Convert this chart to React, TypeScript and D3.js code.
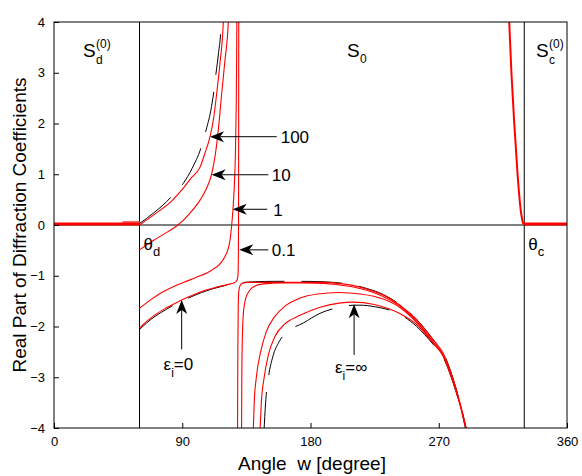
import React, { useEffect, useRef } from 'react';
import * as d3 from 'd3';

// axis values
const xTicks = [0, 90, 180, 270, 360];
const yTicks = [-4, -3, -2, -1, 0, 1, 2, 3, 4];
const thetaD = 60;
const thetaC = 330;

// [angle, value]
const sdRegion = [[0, 0.02], [60, 0.02]];
const sdWedge = [[48, 0.06], [60, 0.06]];
const scRegion = [[329.3, 0.02], [360, 0.02]];
const scDrop = [[319.3, 4.1], [321, 3], [323, 2], [325.3, 1], [327.5, 0.3], [328.6, 0.1], [329.3, 0.02]];

const eps0Upper = [[60, 0.03], [65, 0.13], [70, 0.24], [76, 0.38], [82.5, 0.56], [90.7, 0.82], [97, 1.12], [102.9, 1.5], [106.7, 1.87], [110, 2.25], [112.3, 2.66], [113.7, 2.99], [115.5, 3.4], [117, 3.83], [117.4, 4.3]];
const eps0Lower = [[60, -2.06], [65, -1.93], [70.9, -1.8], [79, -1.66], [87.2, -1.53], [95, -1.43], [103.7, -1.33], [111, -1.26], [117.7, -1.21], [124, -1.17], [130, -1.14], [140, -1.12], [155, -1.11], [172.6, -1.11], [190, -1.12], [196, -1.13], [207.7, -1.17], [219.4, -1.25], [231.1, -1.37], [242.8, -1.57], [254.5, -1.86], [266.2, -2.26], [273.2, -2.52], [280.2, -3.04], [284.9, -3.5], [290, -4.1]];
const epsInf = [[147.3, -4.1], [148.5, -3.5], [150.5, -3.0], [153.5, -2.6], [158, -2.3], [165, -2.08], [175, -1.93], [186.7, -1.74], [200.7, -1.62], [210.6, -1.58], [214.7, -1.58], [225, -1.61], [242.8, -1.76], [254.5, -2.0], [266, -2.35], [273, -2.6], [280, -3.1], [285, -3.56], [289.5, -4.1]];

const c100 = [[60, 0.0], [70, 0.2], [82.5, 0.47], [90, 0.7], [96, 0.92], [102.5, 1.14], [106, 1.42], [109.5, 1.74], [112, 2.1], [114.2, 2.6], [116.5, 3.2], [118.8, 4.0], [119.2, 4.3]];
const c10 = [[60, -0.49], [70, -0.3], [80, -0.13], [87, 0], [95, 0.22], [102.5, 0.49], [107, 0.72], [110.6, 1.0], [113, 1.35], [115.3, 1.87], [117.7, 2.6], [120, 3.25], [122.3, 4.0], [122.6, 4.3]];
const c1 = [[60, -1.64], [68, -1.47], [75.6, -1.33], [84, -1.21], [91.9, -1.12], [100, -1.03], [110.7, -0.89], [116, -0.78], [120, -0.62], [122.3, -0.46], [123.5, -0.3], [124.7, 0], [125.6, 0.31], [126.5, 0.75], [127.3, 1.4], [127.8, 2.2], [128.1, 3], [128.3, 4], [128.35, 4.3]];
const c01 = [[60, -2.03], [65, -1.9], [70.9, -1.77], [79, -1.63], [87.2, -1.51], [95, -1.41], [103.7, -1.31], [111, -1.25], [117.7, -1.2], [124, -1.16], [127, -1.13], [128.4, -1.09], [129.1, -1.0], [129.35, -0.7], [129.5, 0], [129.6, 2], [129.65, 4.3]];

const lowA = [[128.8, -4.1], [129, -2.5], [129.3, -1.6], [129.7, -1.3], [130.5, -1.2], [132, -1.15], [136, -1.13], [150, -1.13], [172.6, -1.13], [190, -1.13], [196, -1.14], [207.7, -1.18], [219.4, -1.26], [231.1, -1.38], [242.8, -1.58], [254.5, -1.87], [266.2, -2.27], [273.2, -2.53], [280.2, -3.05], [284.9, -3.51], [290, -4.1]];
const lowB = [[131.6, -4.1], [131.8, -3], [132.2, -2.2], [133, -1.7], [134.5, -1.45], [137, -1.3], [141, -1.2], [147, -1.16], [160, -1.14], [175, -1.14], [190, -1.15], [200, -1.18], [210, -1.22], [220, -1.29], [231, -1.41], [243, -1.6], [254.5, -1.9], [266, -2.3], [273, -2.56], [280, -3.07], [285, -3.53], [290, -4.1]];
const lowC = [[139.8, -4.1], [140.5, -3.5], [142, -3.0], [145, -2.5], [149, -2.1], [155, -1.8], [162, -1.6], [172.6, -1.44], [185, -1.36], [200, -1.33], [215, -1.36], [231, -1.46], [243, -1.63], [254.5, -1.92], [266, -2.31], [273, -2.57], [280, -3.08], [285, -3.55], [289.8, -4.1]];
const lowD = [[144.5, -4.1], [145.5, -3.5], [147.5, -3.0], [150.5, -2.55], [155, -2.2], [162, -1.95], [172.6, -1.78], [186.7, -1.62], [200, -1.54], [210, -1.52], [224, -1.56], [235, -1.65], [243, -1.75], [254.5, -1.96], [266, -2.33], [273, -2.58], [280, -3.09], [285, -3.55], [289.8, -4.1]];

// arrows: tip, tail, label
const arrows = [
  { tip: [109.5, 1.74], tail: [156.3, 1.74] },
  { tip: [110.6, 0.99], tail: [150.4, 0.99] },
  { tip: [125.4, 0.31], tail: [149.6, 0.31] },
  { tip: [130.0, -0.49], tail: [150.4, -0.49] },
  { tip: [89.6, -1.48], tail: [89.6, -2.45] },
  { tip: [210.6, -1.56], tail: [210.6, -2.56] },
];
const arrowLabels = [
  { text: '100', at: [159.1, 1.62] },
  { text: '10', at: [152.8, 0.87] },
  { text: '1', at: [153.9, 0.18] },
  { text: '0.1', at: [152.8, -0.61] },
];

const App = () => {
  const svgRef = useRef(null);

  useEffect(() => {
    const svg = d3.select(svgRef.current);
    svg.selectAll('*').remove();

    const margin = { top: 22, right: 15, bottom: 48, left: 54 };
    const W = 582, H = 476;
    const width = W - margin.left - margin.right;
    const height = H - margin.top - margin.bottom;
    const font = 'Liberation Sans, Arial, Helvetica, sans-serif';

    svg.attr('width', W).attr('height', H);

    const xScale = d3.scaleLinear().domain([0, 360]).range([0, width]);
    const yScale = d3.scaleLinear().domain([-4, 4]).range([height, 0]);

    svg.append('defs').append('clipPath').attr('id', 'plotclip')
      .append('rect').attr('width', width).attr('height', height);

    const g = svg.append('g').attr('transform', `translate(${margin.left}, ${margin.top})`);

    const line = d3.line()
      .x(d => xScale(d[0]))
      .y(d => yScale(d[1]))
      .curve(d3.curveMonotoneX);

    // reference lines
    g.append('line').attr('x1', 0).attr('x2', width)
      .attr('y1', yScale(0)).attr('y2', yScale(0))
      .attr('stroke', '#000').attr('stroke-width', 1);
    [thetaD, thetaC].forEach(t => {
      g.append('line').attr('x1', xScale(t)).attr('x2', xScale(t))
        .attr('y1', 0).attr('y2', height)
        .attr('stroke', '#000').attr('stroke-width', 1);
    });

    const plot = g.append('g').attr('clip-path', 'url(#plotclip)');

    // black curves (exact limits)
    [eps0Upper, eps0Lower, epsInf].forEach(data => {
      plot.append('path').datum(data).attr('d', line)
        .attr('fill', 'none').attr('stroke', '#000')
        .attr('stroke-width', 1).attr('stroke-dasharray', '41,17');
    });

    // red curves
    [c100, c10, c1, c01, lowA, lowB, lowC, lowD].forEach(data => {
      plot.append('path').datum(data).attr('d', line)
        .attr('fill', 'none').attr('stroke', '#ff0000')
        .attr('stroke-width', 1.1);
    });
    plot.append('path').datum(sdWedge).attr('d', line)
      .attr('fill', 'none').attr('stroke', '#ff6666').attr('stroke-width', 2);
    [sdRegion, scRegion].forEach(data => {
      plot.append('path').datum(data).attr('d', line)
        .attr('fill', 'none').attr('stroke', '#ff0000').attr('stroke-width', 3);
    });
    plot.append('path').datum(scDrop).attr('d', line)
      .attr('fill', 'none').attr('stroke', '#ff0000').attr('stroke-width', 2);

    // frame
    g.append('rect').attr('width', width).attr('height', height)
      .attr('fill', 'none').attr('stroke', '#000').attr('stroke-width', 1);

    // axes, ticks inside
    const xAxis = d3.axisBottom(xScale).tickValues(xTicks).tickSizeInner(-5).tickSizeOuter(0).tickPadding(9);
    const gx = g.append('g').attr('transform', `translate(0, ${height})`).call(xAxis);
    const yAxis = d3.axisLeft(yScale).tickValues(yTicks).tickSizeInner(-5).tickSizeOuter(0).tickPadding(9);
    const gy = g.append('g').call(yAxis);
    [gx, gy].forEach(a => {
      a.select('.domain').remove();
      a.selectAll('text').attr('font-family', font).attr('font-size', 13).attr('fill', '#000');
    });

    // axis labels
    svg.append('text')
      .attr('x', 312).attr('y', 470)
      .attr('text-anchor', 'middle')
      .attr('font-family', font).attr('font-size', 19)
      .style('white-space', 'pre')
      .text('Angle  w [degree]');
    svg.append('text')
      .attr('transform', 'translate(26, 225) rotate(-90)')
      .attr('text-anchor', 'middle')
      .attr('font-family', font).attr('font-size', 19)
      .text('Real Part of Diffraction Coefficients');

    // region labels: S with stacked sub/superscript
    const region = (sx, sub, sup) => {
      g.append('text').attr('font-family', font).attr('font-size', 19)
        .attr('x', sx).attr('y', 35).text('S');
      if (sup) {
        g.append('text').attr('font-family', font).attr('font-size', 12)
          .attr('x', sx + 13).attr('y', 26).text(sup);
      }
      g.append('text').attr('font-family', font).attr('font-size', 12)
        .attr('x', sx + 13).attr('y', sup ? 42 : 41).text(sub);
    };
    region(29, 'd', '(0)');
    region(293, '0', null);
    region(482, 'c', '(0)');

    // theta labels
    const theta = (t, sub) => {
      const tx = g.append('text').attr('font-family', font).attr('font-size', 17)
        .attr('x', xScale(t) + 4).attr('y', yScale(0) + 25);
      tx.append('tspan').text('θ');
      tx.append('tspan').attr('dy', 6).attr('font-size', 13).text(sub);
    };
    theta(thetaD, 'd');
    theta(thetaC, 'c');

    // arrows
    arrows.forEach(a => {
      const x1 = xScale(a.tail[0]), y1 = yScale(a.tail[1]);
      const x2 = xScale(a.tip[0]), y2 = yScale(a.tip[1]);
      const ang = Math.atan2(y1 - y2, x1 - x2);
      const L = 14, w = 5.5, n = 4;
      const pt = (dx, dy) => [x2 + dx * Math.cos(ang) - dy * Math.sin(ang), y2 + dx * Math.sin(ang) + dy * Math.cos(ang)];
      const hx = pt(L - n, 0);
      g.append('line').attr('x1', x1).attr('y1', y1).attr('x2', hx[0]).attr('y2', hx[1])
        .attr('stroke', '#000').attr('stroke-width', 1);
      const pts = [pt(0, 0), pt(L, -w), pt(L - n, 0), pt(L, w)];
      g.append('path').attr('d', 'M' + pts.map(p => p.join(',')).join('L') + 'Z').attr('fill', '#000');
    });

    arrowLabels.forEach(l => {
      g.append('text').attr('x', xScale(l.at[0])).attr('y', yScale(l.at[1]))
        .attr('font-family', font).attr('font-size', 17).text(l.text);
    });

    // epsilon labels
    const eps = (ex, ey, rest) => {
      const t = g.append('text').attr('font-family', font).attr('font-size', 17)
        .attr('x', xScale(ex)).attr('y', yScale(ey));
      t.append('tspan').text('ε');
      t.append('tspan').attr('dy', 7).attr('font-size', 12).text('i');
      t.append('tspan').attr('dy', -7).text(rest);
    };
    eps(76.9, -2.86, '=0');
    eps(197.2, -2.92, '=∞');
  }, []);

  return <svg ref={svgRef} style={{ position: 'absolute', left: 0, top: 0, background: '#fff' }}></svg>;
};

export default App;
